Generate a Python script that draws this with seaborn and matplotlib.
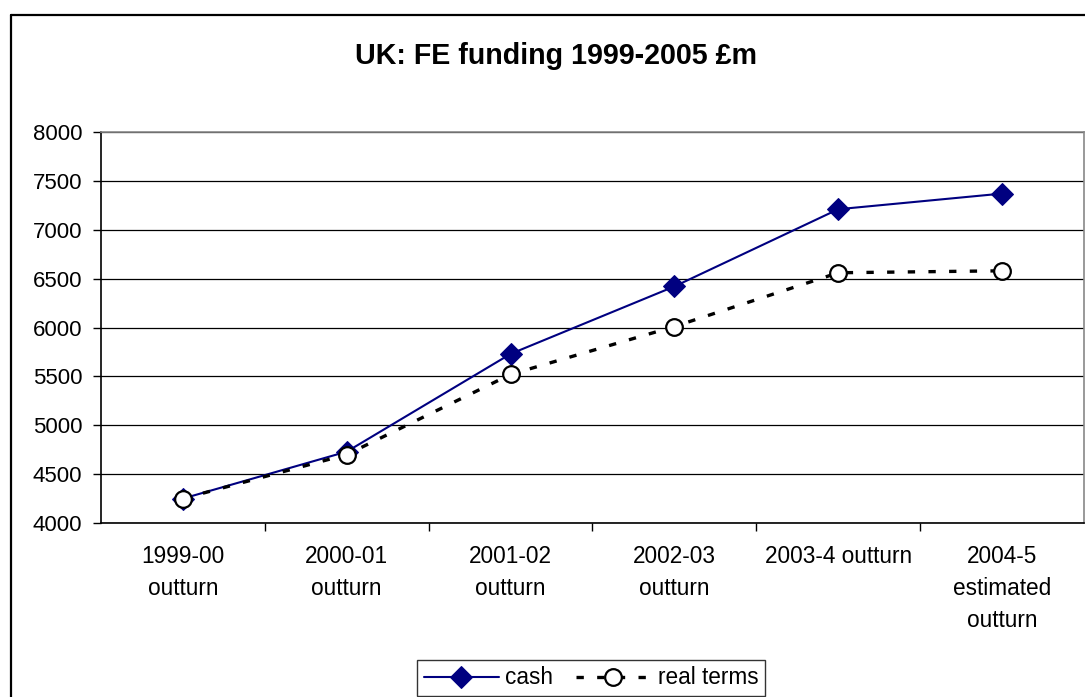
import numpy as np
import pandas as pd
import matplotlib
matplotlib.use("Agg")
import matplotlib.pyplot as plt
from matplotlib.lines import Line2D
from matplotlib.ticker import FixedLocator, NullFormatter
import seaborn as sns

# FE funding, £m
categories = ["1999-00\noutturn", "2000-01\noutturn", "2001-02\noutturn",
              "2002-03\noutturn", "2003-4 outturn", "2004-5\nestimated\noutturn"]
cash = [4250, 4730, 5730, 6420, 7210, 7370]
real_terms = [4250, 4700, 5520, 6010, 6560, 6580]
y_ticks = [4000, 4500, 5000, 5500, 6000, 6500, 7000, 7500, 8000]

sns.set_theme(style="white")
plt.rcParams["font.family"] = ["Liberation Sans", "DejaVu Sans"]
plt.rcParams["text.color"] = "black"
plt.rcParams["xtick.color"] = "black"
plt.rcParams["ytick.color"] = "black"
plt.rcParams["axes.labelcolor"] = "black"

df = pd.DataFrame({
    "pos": np.arange(len(categories)),
    "cash": cash,
    "real terms": real_terms,
})

fig = plt.figure(figsize=(10.85, 6.97), dpi=100)
ax = fig.add_axes([101 / 1085, 1 - 523 / 697, (1084 - 101) / 1085, (523 - 132) / 697])

sns.lineplot(data=df, x="pos", y="cash", ax=ax, color="#000080", lw=1.5,
             marker="D", markersize=11, markeredgecolor="#000080",
             markerfacecolor="#000080", label="cash", zorder=3)
sns.lineplot(data=df, x="pos", y="real terms", ax=ax, color="black", lw=2.4,
             dashes=False, marker="o", markersize=12, markerfacecolor="white",
             markeredgecolor="black", markeredgewidth=1.6, label="real terms",
             zorder=4)
ax.lines[1].set_dashes((2.2, 4.0))

ax.set_xlim(-0.5, len(categories) - 0.5)
ax.set_ylim(y_ticks[0], y_ticks[-1])
ax.set_yticks(y_ticks)
ax.set_xticks(np.arange(len(categories)))
ax.set_xticklabels(categories, linespacing=1.5)
ax.xaxis.set_minor_locator(FixedLocator(np.arange(0.5, len(categories) - 1, 1.0)))
ax.xaxis.set_minor_formatter(NullFormatter())
ax.set_xlabel("")
ax.set_ylabel("")

ax.grid(axis="y", color="black", lw=0.9)
ax.set_axisbelow(True)
ax.tick_params(axis="y", which="major", direction="out", length=5.5, width=1,
               color="black", pad=8, labelsize=16, left=True)
ax.tick_params(axis="x", which="major", length=0, pad=15.5, labelsize=16.3)
ax.tick_params(axis="x", which="minor", direction="out", length=5.5, width=1,
               color="black", bottom=True)
for side in ["left", "bottom"]:
    ax.spines[side].set_color("black")
    ax.spines[side].set_linewidth(1.2)
for side in ["top", "right"]:
    ax.spines[side].set_color("#888888")
    ax.spines[side].set_linewidth(1.2)

leg = ax.legend(loc="center", bbox_to_anchor=(591 / 1085, 1 - 678 / 697),
                bbox_transform=fig.transFigure, ncol=2, frameon=True,
                fancybox=False, edgecolor="black", fontsize=16.3,
                handlelength=3.3, handletextpad=0.3, columnspacing=1.0,
                borderpad=0.3, borderaxespad=0)
leg.get_frame().set_linewidth(1.0)

fig.text(556 / 1085, 1 - 56 / 697, "UK: FE funding 1999-2005 £m",
         ha="center", va="center", fontsize=20.6, fontweight="bold")

# outer chart frame
fig.add_artist(Line2D([11 / 1085, 11 / 1085], [1 - 15 / 697, -0.05],
                      transform=fig.transFigure, color="black", lw=1.6))
fig.add_artist(Line2D([11 / 1085, 1.05], [1 - 15 / 697, 1 - 15 / 697],
                      transform=fig.transFigure, color="black", lw=1.6))

fig.savefig("out.png", dpi=100, facecolor="white")
